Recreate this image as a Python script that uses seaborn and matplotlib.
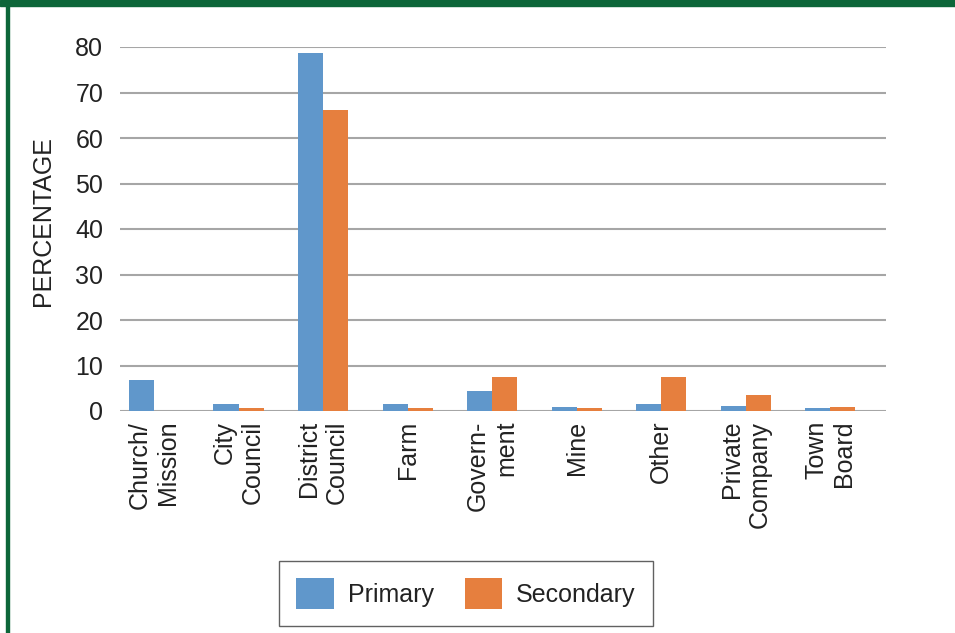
import matplotlib
matplotlib.use("Agg")
import matplotlib.pyplot as plt
from matplotlib.patches import Rectangle
import seaborn as sns
import pandas as pd

categories = ["Church/\nMission", "City\nCouncil", "District\nCouncil", "Farm",
              "Govern-\nment", "Mine", "Other", "Private\nCompany", "Town\nBoard"]
primary = [6.9, 1.5, 78.7, 1.5, 4.4, 0.9, 1.5, 1.1, 0.7]
secondary = [0.0, 0.7, 66.2, 0.7, 7.5, 0.7, 7.5, 3.5, 0.9]
series_names = ["Primary", "Secondary"]
y_ticks = [0, 10, 20, 30, 40, 50, 60, 70, 80]

df = pd.DataFrame({
    "category": categories * 2,
    "value": primary + secondary,
    "level": [series_names[0]] * len(categories) + [series_names[1]] * len(categories),
})

sns.set_theme(style="white")
plt.rcParams["font.family"] = ["Liberation Sans", "DejaVu Sans"]
text_color = "#222222"
grid_color = "#A6A6A6"

fig = plt.figure(figsize=(9.55, 6.33), dpi=100)
ax = fig.add_axes([120 / 955, 1 - 411 / 633, 766 / 955, 364 / 633])

sns.barplot(data=df, x="category", y="value", hue="level",
            palette=["#6097CB", "#E67F3E"], saturation=1, width=0.592,
            edgecolor="none", linewidth=0, ax=ax, order=categories,
            hue_order=series_names)

ax.set_xlim(-0.402, 8.659)
ax.set_ylim(0, 80)
ax.set_yticks(y_ticks)
ax.set_axisbelow(True)
ax.yaxis.grid(True, color=grid_color, linewidth=1.5)
ax.xaxis.grid(False)
for side in ["left", "right", "top", "bottom"]:
    ax.spines[side].set_visible(False)

ax.tick_params(axis="y", length=0, pad=12, labelsize=18, labelcolor=text_color)
ax.tick_params(axis="x", length=0, pad=7, labelsize=18, labelcolor=text_color)
ax.set_xticks(range(len(categories)))
ax.set_xticklabels(categories, rotation=90, ha="center", va="top",
                   multialignment="right", linespacing=1.2)
ax.set_xlabel("")
ax.set_ylabel("")

fig.text(43 / 955, 1 - 221 / 633, "PERCENTAGE", rotation=90, ha="center",
         va="center", fontsize=18, color=text_color)

handles, labels = ax.get_legend_handles_labels()
ax.get_legend().remove()
leg = fig.legend(handles, labels, loc="center",
                 bbox_to_anchor=(466 / 955, 1 - 593.5 / 633),
                 ncol=2, fontsize=18, frameon=True, fancybox=False,
                 handlelength=1.5, handleheight=1.5, handletextpad=0.55,
                 columnspacing=1.25, borderpad=0.7, borderaxespad=0)
leg.get_frame().set_edgecolor("#3A3A3A")
leg.get_frame().set_linewidth(1.0)
for t in leg.get_texts():
    t.set_color(text_color)

# green frame: thick top band and thin left rule
border_green = "#0D6639"
fig.add_artist(Rectangle((0, 1 - 6 / 633), 1, 6 / 633, transform=fig.transFigure,
                         color=border_green, zorder=10))
fig.add_artist(Rectangle((6 / 955, 0), 2.5 / 955, 1, transform=fig.transFigure,
                         color=border_green, zorder=10))

fig.savefig("out.png", dpi=100, facecolor="white")
